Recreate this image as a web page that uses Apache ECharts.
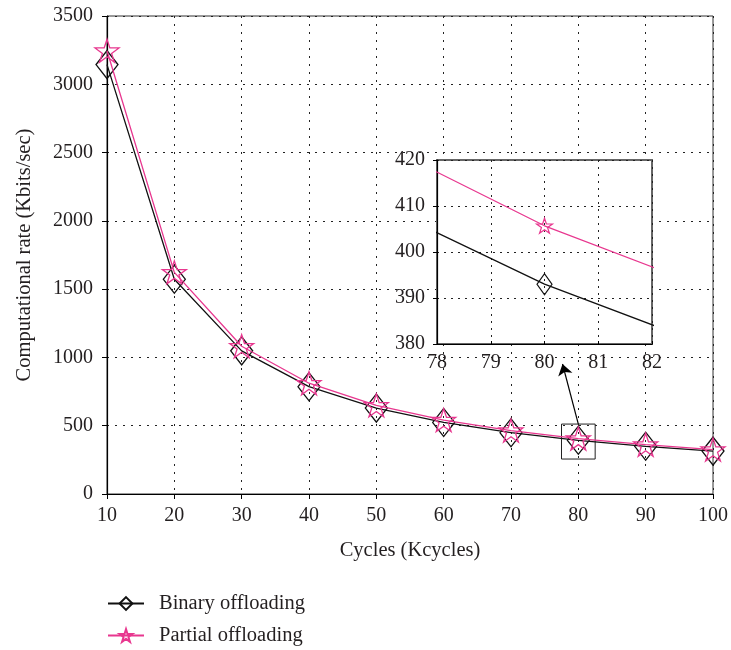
<!DOCTYPE html>
<html>
<head>
<meta charset="utf-8">
<script src="https://cdn.jsdelivr.net/npm/echarts@6/dist/echarts.min.js"></script>
<style>html,body{margin:0;padding:0;background:#fff}#c{width:731px;height:650px}</style>
</head>
<body>
<div id="c"></div>
<script>
const cycles = [10, 20, 30, 40, 50, 60, 70, 80, 90, 100];
const binaryRate = [3144, 1572, 1048, 786, 629, 524, 449, 393, 349, 314];
const partialRate = [3246, 1623, 1082, 811, 649, 541, 464, 405.7, 361, 325];
const seriesNames = ['Binary offloading', 'Partial offloading'];

const STAR = 'path://M50 0 L61.23 34.55 L97.55 34.55 L68.17 55.9 L79.39 90.45 L50 69.1 L20.61 90.45 L31.83 55.9 L2.45 34.55 L38.77 34.55 Z';
const FONT = 'Liberation Serif';
const TXT = '#231f20';
const PINK = '#e8378f';
const BLACK = '#111';

const pairs = a => cycles.map((c, i) => [c, a[i]]);
const plain = v => String(v);

const chart = echarts.init(document.getElementById('c'), null, {renderer: 'canvas'});
const dotted = {color: '#222', type: [2, 6], width: 1};
const legendBase = {
  orient: 'horizontal', left: 107, padding: 0,
  itemWidth: 36, itemHeight: 16,
  textStyle: {fontFamily: FONT, fontSize: 20.5, color: TXT, padding: [0, 0, 0, 10]}
};
chart.setOption({
  animation: false,
  backgroundColor: '#fff',
  textStyle: {fontFamily: FONT, color: TXT},
  grid: [
    {left: 107, top: 16, width: 608, height: 478, show: true, borderColor: '#333', borderWidth: 1, z: 0},
    {left: 437, top: 160, width: 215, height: 184, show: true, backgroundColor: '#fff', borderColor: '#666', borderWidth: 2, z: 5}
  ],
  xAxis: [
    {type: 'value', gridIndex: 0, min: 10, max: 100, interval: 10,
     name: 'Cycles (Kcycles)', nameLocation: 'middle', nameGap: 46,
     nameTextStyle: {fontFamily: FONT, fontSize: 20.5, color: TXT},
     axisLine: {lineStyle: {color: '#000', width: 1.2}},
     axisTick: {show: true, inside: false, length: 5, lineStyle: {color: '#000'}},
     axisLabel: {fontFamily: FONT, fontSize: 20, color: TXT, margin: 12, formatter: plain},
     splitLine: {show: true, lineStyle: dotted}},
    {type: 'value', gridIndex: 1, min: 78, max: 82, interval: 1, z: 6,
     axisLine: {lineStyle: {color: '#000', width: 1.2}},
     axisTick: {show: true, inside: true, length: 3, lineStyle: {color: '#000'}},
     axisLabel: {fontFamily: FONT, fontSize: 20, color: TXT, margin: 9, formatter: plain},
     splitLine: {show: true, lineStyle: {color: '#222', type: [2, 5], width: 1}}}
  ],
  yAxis: [
    {type: 'value', gridIndex: 0, min: 0, max: 3500, interval: 500,
     name: 'Computational rate (Kbits/sec)', nameLocation: 'middle', nameGap: 72,
     nameTextStyle: {fontFamily: FONT, fontSize: 20.5, color: TXT},
     axisLine: {show: true, lineStyle: {color: '#000', width: 1.2}},
     axisTick: {show: true, inside: false, length: 5, lineStyle: {color: '#000'}},
     axisLabel: {fontFamily: FONT, fontSize: 20, color: TXT, margin: 14, formatter: plain},
     splitLine: {show: true, lineStyle: dotted}},
    {type: 'value', gridIndex: 1, min: 380, max: 420, interval: 10, z: 6,
     axisLine: {show: true, lineStyle: {color: '#000', width: 1.2}},
     axisTick: {show: true, inside: false, length: 4, lineStyle: {color: '#000'}},
     axisLabel: {fontFamily: FONT, fontSize: 20, color: TXT, margin: 12, formatter: plain},
     splitLine: {show: true, lineStyle: {color: '#222', type: [2, 5], width: 1}}}
  ],
  legend: [
    Object.assign({}, legendBase, {top: 593, data: [seriesNames[0]]}),
    Object.assign({}, legendBase, {top: 625, data: [seriesNames[1]]})
  ],
  series: [
    {name: seriesNames[0], type: 'line', xAxisIndex: 0, yAxisIndex: 0, data: pairs(binaryRate),
     symbol: 'diamond', symbolSize: [22, 28], showSymbol: true,
     lineStyle: {color: BLACK, width: 1.3},
     itemStyle: {color: 'rgba(255,255,255,0)', borderColor: BLACK, borderWidth: 1.3},
     z: 2,
     markArea: {silent: true, itemStyle: {color: 'rgba(0,0,0,0)', borderColor: '#222', borderWidth: 1},
       data: [[{coord: [77.5, 256]}, {coord: [82.5, 512]}]]},
     markLine: {silent: true, symbol: ['none', 'arrow'], symbolSize: 11,
       lineStyle: {color: '#000', type: 'solid', width: 1.2}, label: {show: false},
       data: [[{coord: [80, 512]}, {coord: [77.65, 952]}]]}},
    {name: seriesNames[1], type: 'line', xAxisIndex: 0, yAxisIndex: 0, data: pairs(partialRate),
     symbol: STAR, symbolSize: [24, 23], showSymbol: true,
     lineStyle: {color: PINK, width: 1.3},
     itemStyle: {color: 'rgba(255,255,255,0)', borderColor: PINK, borderWidth: 1.3},
     z: 3},
    {name: 'inset-binary', type: 'line', xAxisIndex: 1, yAxisIndex: 1, data: pairs(binaryRate),
     clip: true, symbol: 'diamond', symbolSize: [15, 21], showSymbol: true,
     lineStyle: {color: BLACK, width: 1.3},
     itemStyle: {color: 'rgba(255,255,255,0)', borderColor: BLACK, borderWidth: 1.2},
     z: 8},
    {name: 'inset-partial', type: 'line', xAxisIndex: 1, yAxisIndex: 1, data: pairs(partialRate),
     clip: true, symbol: STAR, symbolSize: [16, 15], showSymbol: true,
     lineStyle: {color: PINK, width: 1.3},
     itemStyle: {color: 'rgba(255,255,255,0)', borderColor: PINK, borderWidth: 1.2},
     z: 9}
  ]
});
</script>
</body>
</html>
